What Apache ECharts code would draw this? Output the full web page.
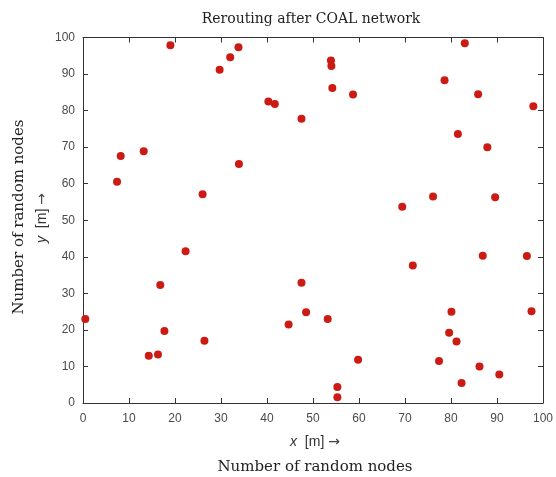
<!DOCTYPE html>
<html><head><meta charset="utf-8">
<script src="https://cdn.jsdelivr.net/npm/echarts@6/dist/echarts.min.js"></script>
<style>html,body{margin:0;padding:0;background:#fff}#c{width:556px;height:477px}</style>
</head><body><div id="c"></div>
<script>
var xValues = [19.0,29.7,32.0,33.8,40.3,41.7,47.5,8.2,13.2,7.4,33.9,26.0,
  53.9,54.0,54.2,58.7,83.0,78.6,85.9,97.9,81.5,87.9,76.1,89.6,69.4,
  22.3,16.8,47.5,0.5,17.7,26.4,14.3,16.3,44.7,48.5,
  71.7,86.9,96.5,80.1,97.5,53.2,79.6,81.2,59.8,77.4,86.2,90.5,82.3,55.3,55.3];
var yValues = [97.9,91.2,94.6,97.3,82.5,81.8,77.8,67.6,68.9,60.5,65.4,57.1,
  93.7,92.2,86.2,84.4,98.4,88.3,84.5,81.2,73.6,70.0,56.5,56.3,53.7,
  41.5,32.3,32.9,23.0,19.7,17.0,12.9,13.3,21.5,24.8,
  37.6,40.3,40.2,25.0,25.1,23.0,19.2,16.8,11.8,11.5,10.0,7.8,5.5,4.4,1.6];
var xTicks = [0,10,20,30,40,50,60,70,80,90,100];
var yTicks = [0,10,20,30,40,50,60,70,80,90,100];
var titleText = 'Rerouting after COAL network';
var xNameText = '{i|x}  [m] {a|→}';
var yNameText = '{i|y}  [m] {a|→}';
var xLabelText = 'Number of random nodes';
var yLabelText = 'Number of random nodes';

var points = xValues.map(function(x,i){return [x, yValues[i]];});
var chart = echarts.init(document.getElementById('c'), null, {renderer:'canvas'});
var axisLineStyle = {color:'#333', width:1};
var serif = '"DejaVu Serif", "Liberation Serif", serif';
var sans = '"Liberation Sans", Arial, sans-serif';
function baseAxis(ticks, extra){
  return Object.assign({
    type:'value', min:ticks[0], max:ticks[ticks.length-1], interval:ticks[1]-ticks[0],
    axisLine:{show:true, onZero:false, lineStyle:axisLineStyle},
    axisTick:{show:true, inside:true, length:5, lineStyle:axisLineStyle},
    splitLine:{show:false}
  }, extra);
}
var labelStyle = {color:'#4a4a4a', fontFamily:sans, fontSize:12};
var nameRich = {
  i:{fontStyle:'italic', fontFamily:sans, fontSize:14, fill:'#333'},
  a:{fontFamily:'"DejaVu Sans", sans-serif', fontSize:14, fill:'#444'}
};
chart.setOption({
  animation:false,
  backgroundColor:'#fff',
  grid:{left:83, right:11, top:37.5, bottom:74},
  xAxis:[
    baseAxis(xTicks, {position:'bottom', axisLabel:Object.assign({margin:10}, labelStyle)}),
    baseAxis(xTicks, {position:'top', axisLabel:{show:false}})
  ],
  yAxis:[
    baseAxis(yTicks, {position:'left', axisLabel:Object.assign({margin:8}, labelStyle)}),
    baseAxis(yTicks, {position:'right', axisLabel:{show:false}})
  ],
  graphic:[
    {type:'text', x:311, y:19, style:{text:titleText, fontFamily:serif, fontSize:14, fill:'#222',
      textAlign:'center', textVerticalAlign:'middle'}},
    {type:'text', x:315, y:442, style:{text:xNameText, fontFamily:sans, fontSize:14, fill:'#333',
      textAlign:'center', textVerticalAlign:'middle', rich:nameRich}},
    {type:'text', x:42, y:218, rotation:Math.PI/2, style:{text:yNameText, fontFamily:sans, fontSize:14, fill:'#333',
      textAlign:'center', textVerticalAlign:'middle', rich:nameRich}},
    {type:'text', x:315, y:467, style:{text:xLabelText, fontFamily:serif, fontSize:15, fill:'#222',
      textAlign:'center', textVerticalAlign:'middle'}},
    {type:'text', x:19, y:217, rotation:Math.PI/2, style:{text:yLabelText, fontFamily:serif, fontSize:15, fill:'#222',
      textAlign:'center', textVerticalAlign:'middle'}}
  ],
  series:[{
    type:'scatter', data:points, symbol:'circle', symbolSize:8,
    itemStyle:{color:'#cc1a14', opacity:1}
  }]
});
</script></body></html>
